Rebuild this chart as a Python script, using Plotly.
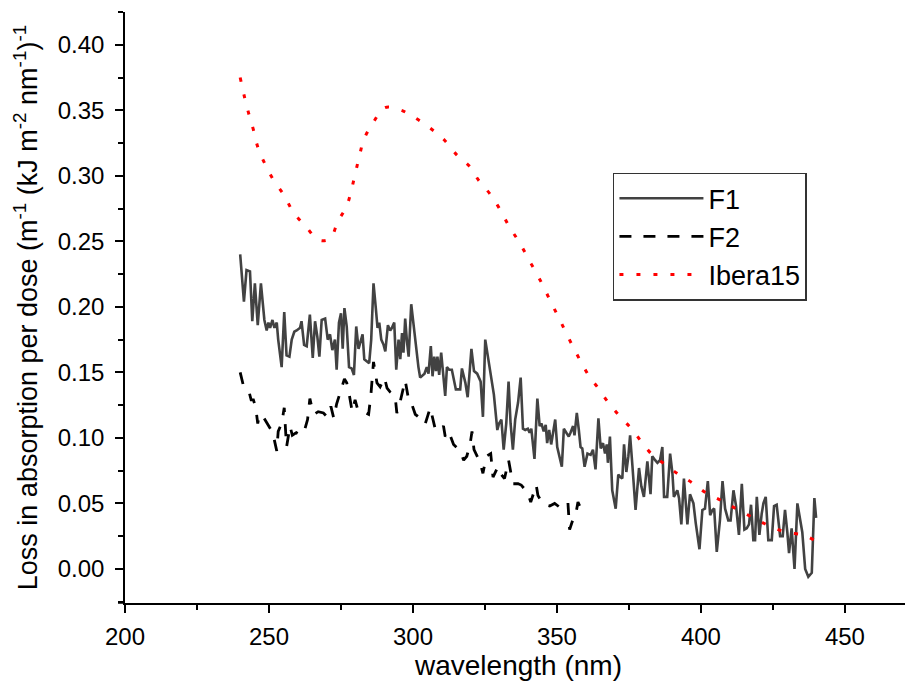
import plotly.graph_objects as go

# ---------------- data ----------------
f1_wl = [240.0, 241.3, 242.2, 243.4, 244.2, 245.1, 246.1, 247.2, 248.4, 249.2, 249.8, 250.4, 251.2, 251.9,
         252.7, 253.2, 254.4, 255.3, 256.1, 257.1, 257.9, 258.8, 259.6, 260.8, 261.3, 262.2, 263.1, 264.2,
         265.2, 266.0, 266.8, 267.5, 268.3, 269.5, 270.4, 271.2, 272.0, 272.9, 273.5, 274.3, 275.0, 275.6,
         276.2, 277.0, 277.8, 278.7, 279.5, 280.3, 281.1, 281.9, 282.5, 283.1, 284.0, 284.8, 285.5, 286.3,
         287.1, 287.7, 288.3, 289.0, 289.8, 290.4, 291.3, 292.1, 292.7, 293.5, 294.2, 295.0, 295.6, 296.2,
         296.7, 297.3, 297.9, 298.5, 299.4, 300.2, 301.0, 301.9, 302.5, 303.3, 304.0, 304.8, 305.4, 306.2,
         306.8, 307.4, 308.0, 308.5, 309.1, 309.8, 310.6, 311.2, 311.8, 312.6, 313.5, 314.1, 314.9, 315.6,
         316.4, 317.0, 318.2, 319.0, 320.3, 321.2, 322.3, 323.5, 324.3, 325.1, 326.3, 327.2, 328.1, 329.3,
         329.9, 330.7, 331.5, 332.4, 333.2, 333.9, 334.7, 335.5, 336.5, 337.4, 338.2, 339.0, 339.9, 340.5,
         341.1, 342.2, 343.2, 344.0, 344.6, 345.4, 346.1, 346.6, 347.3, 348.0, 348.8, 349.4, 350.1, 350.9,
         351.7, 352.4, 353.2, 354.1, 354.7, 355.6, 356.1, 356.9, 357.6, 358.2, 358.8, 359.6, 360.6, 361.7,
         362.5, 363.4, 364.4, 365.2, 366.0, 366.7, 367.3, 367.7, 368.4, 369.2, 370.4, 371.3, 372.1, 372.7,
         373.3, 374.1, 374.8, 375.4, 376.2, 377.3, 378.5, 379.3, 380.2, 381.4, 382.5, 383.1, 384.1, 384.9,
         385.8, 386.6, 387.2, 388.3, 389.3, 390.1, 390.6, 391.8, 392.4, 393.2, 394.1, 395.3, 396.2, 397.4,
         398.2, 399.5, 400.5, 401.4, 402.4, 403.2, 404.0, 404.6, 405.5, 406.6, 407.5, 408.4, 409.5, 410.3,
         411.3, 412.2, 413.2, 414.2, 415.1, 415.9, 416.7, 417.4, 418.2, 418.8, 419.4, 420.3, 421.1, 421.7,
         422.5, 423.4, 424.6, 425.4, 426.3, 427.5, 428.4, 429.2, 430.0, 430.6, 431.5, 432.5, 433.5, 434.4,
         435.2, 436.2, 437.3, 438.5, 439.4, 440.0]
f1_val = [0.240, 0.204, 0.228, 0.227, 0.189, 0.218, 0.186, 0.218, 0.190, 0.182, 0.188, 0.184, 0.190, 0.184,
          0.188, 0.175, 0.154, 0.196, 0.163, 0.162, 0.175, 0.181, 0.182, 0.184, 0.189, 0.171, 0.170, 0.194,
          0.161, 0.189, 0.177, 0.162, 0.190, 0.191, 0.175, 0.179, 0.167, 0.175, 0.152, 0.188, 0.195, 0.168,
          0.199, 0.185, 0.154, 0.153, 0.148, 0.185, 0.168, 0.175, 0.179, 0.160, 0.158, 0.157, 0.175, 0.218,
          0.199, 0.184, 0.188, 0.175, 0.171, 0.166, 0.186, 0.182, 0.184, 0.188, 0.152, 0.175, 0.160, 0.180,
          0.165, 0.191, 0.174, 0.162, 0.202, 0.185, 0.172, 0.154, 0.146, 0.148, 0.149, 0.154, 0.149, 0.170,
          0.147, 0.162, 0.151, 0.162, 0.148, 0.165, 0.147, 0.132, 0.154, 0.152, 0.152, 0.146, 0.137, 0.137,
          0.137, 0.153, 0.142, 0.131, 0.168, 0.151, 0.149, 0.143, 0.116, 0.175, 0.158, 0.143, 0.133, 0.106,
          0.111, 0.114, 0.091, 0.111, 0.143, 0.111, 0.091, 0.114, 0.127, 0.146, 0.107, 0.106, 0.107, 0.104,
          0.107, 0.084, 0.130, 0.109, 0.111, 0.105, 0.110, 0.096, 0.106, 0.095, 0.106, 0.114, 0.093, 0.086,
          0.078, 0.107, 0.104, 0.101, 0.104, 0.109, 0.102, 0.119, 0.106, 0.093, 0.092, 0.078, 0.088, 0.087,
          0.091, 0.076, 0.115, 0.092, 0.096, 0.088, 0.095, 0.081, 0.101, 0.060, 0.046, 0.072, 0.070, 0.069,
          0.095, 0.074, 0.086, 0.102, 0.079, 0.045, 0.077, 0.063, 0.055, 0.082, 0.057, 0.086, 0.083, 0.081,
          0.083, 0.093, 0.055, 0.055, 0.088, 0.073, 0.055, 0.060, 0.054, 0.034, 0.069, 0.034, 0.057, 0.050,
          0.035, 0.015, 0.045, 0.046, 0.067, 0.041, 0.045, 0.046, 0.013, 0.037, 0.067, 0.046, 0.037, 0.037,
          0.060, 0.048, 0.026, 0.065, 0.030, 0.031, 0.034, 0.049, 0.022, 0.022, 0.055, 0.026, 0.042, 0.050,
          0.055, 0.022, 0.022, 0.048, 0.049, 0.025, 0.025, 0.045, 0.028, 0.012, 0.031, 0.000, 0.050, 0.039,
          0.028, 0.000, -0.006, -0.003, 0.054, 0.039]

f2_wl = [240.0, 241.1, 243.1, 243.8, 244.6, 245.4, 246.1, 246.5, 247.5, 248.6, 249.8, 250.4, 251.3, 252.1,
         252.7, 253.2, 254.4, 255.3, 256.1, 257.3, 258.1, 259.5, 261.0, 262.5, 263.4, 264.2, 264.8, 265.7,
         267.1, 268.9, 270.2, 271.5, 272.5, 273.5, 274.7, 275.2, 276.2, 277.0, 277.8, 278.9, 279.9, 280.9,
         282.9, 284.6, 285.4, 286.3, 287.5, 288.6, 290.1, 291.0, 292.1, 293.8, 294.4, 295.6, 296.7, 297.3,
         298.5, 299.4, 300.8, 301.9, 303.1, 304.3, 306.0, 307.7, 308.9, 310.6, 311.2, 312.4, 314.1, 315.3,
         316.4, 317.6, 318.7, 319.9, 320.5, 321.2, 322.0, 323.2, 324.3, 325.5, 327.0, 327.8, 329.5, 330.7,
         331.8, 333.2, 334.7, 336.5, 337.6, 339.9, 340.9, 342.8, 343.4, 344.8, 345.7, 347.5, 349.2, 351.0,
         352.7, 353.8, 354.4, 355.6, 356.4, 357.3, 358.5, 359.6]
f2_val = [0.150, 0.140, 0.135, 0.129, 0.129, 0.123, 0.111, 0.116, 0.118, 0.114, 0.110, 0.107, 0.104, 0.096,
          0.090, 0.105, 0.111, 0.123, 0.093, 0.109, 0.102, 0.104, 0.102, 0.107, 0.114, 0.130, 0.124, 0.118,
          0.120, 0.119, 0.116, 0.124, 0.115, 0.126, 0.134, 0.139, 0.145, 0.142, 0.134, 0.120, 0.129, 0.121,
          0.120, 0.118, 0.133, 0.158, 0.142, 0.139, 0.146, 0.138, 0.135, 0.132, 0.119, 0.128, 0.139, 0.144,
          0.129, 0.127, 0.118, 0.116, 0.111, 0.111, 0.123, 0.107, 0.105, 0.109, 0.101, 0.105, 0.095, 0.092,
          0.090, 0.083, 0.086, 0.096, 0.105, 0.091, 0.087, 0.082, 0.073, 0.086, 0.088, 0.070, 0.078, 0.072,
          0.069, 0.083, 0.065, 0.065, 0.064, 0.058, 0.051, 0.064, 0.056, 0.051, 0.049, 0.048, 0.050, 0.047,
          0.050, 0.051, 0.030, 0.038, 0.040, 0.051, 0.045, 0.043]

ibera_wl = [240.0, 241.4, 242.9, 244.6, 246.1, 248.4, 251.5, 255.3, 258.5, 262.9, 267.2, 271.2, 273.9, 277.0,
            278.7, 280.1, 281.5, 283.0, 286.3, 290.3, 295.9, 300.2, 305.6, 310.6, 315.2, 319.3, 323.0, 326.8,
            330.3, 333.5, 337.0, 341.0, 344.5, 347.6, 350.1, 353.0, 355.7, 358.6, 361.5, 364.0, 367.5, 372.0,
            376.3, 380.0, 383.6, 386.8, 391.7, 396.8, 401.8, 407.2, 412.2, 418.2, 423.7, 429.6, 435.3, 439.3]
ibera_val = [0.375, 0.361, 0.348, 0.335, 0.322, 0.310, 0.297, 0.285, 0.272, 0.261, 0.251, 0.252, 0.265, 0.277,
             0.290, 0.303, 0.316, 0.328, 0.341, 0.352, 0.350, 0.345, 0.337, 0.328, 0.316, 0.308, 0.296, 0.286,
             0.274, 0.261, 0.249, 0.233, 0.219, 0.205, 0.194, 0.181, 0.169, 0.157, 0.146, 0.139, 0.128, 0.116,
             0.106, 0.095, 0.086, 0.081, 0.073, 0.066, 0.058, 0.052, 0.046, 0.039, 0.033, 0.028, 0.026, 0.022]

x_tick_vals = [200, 250, 300, 350, 400, 450]
y_tick_vals = [0.00, 0.05, 0.10, 0.15, 0.20, 0.25, 0.30, 0.35, 0.40]

FONT = "Liberation Sans, Arial, sans-serif"

fig = go.Figure()
fig.add_trace(go.Scatter(x=f1_wl, y=f1_val, mode="lines", name="F1",
                         line=dict(color="#424242", width=2.6)))
fig.add_trace(go.Scatter(x=f2_wl, y=f2_val, mode="lines", name="F2",
                         line=dict(color="#000000", width=2.8, dash="12px,12px")))
fig.add_trace(go.Scatter(x=ibera_wl, y=ibera_val, mode="lines", name="Ibera15",
                         line=dict(color="#ff0000", width=3, dash="4px,13px", shape="spline")))

axis_common = dict(
    showgrid=False, zeroline=False, showline=True, linecolor="black", linewidth=1.5,
    ticks="outside", ticklen=8, tickwidth=1.5, tickcolor="black", automargin=False,
    tickfont=dict(family=FONT, size=24, color="black"),
)

fig.update_xaxes(
    **axis_common,
    range=[200, 473.3], tickvals=x_tick_vals, ticklabelstandoff=3,
    minor=dict(dtick=25, tick0=200, ticks="outside", ticklen=5, tickwidth=1.5, tickcolor="black"),
    title=dict(text="wavelength (nm)", font=dict(family=FONT, size=28, color="black"), standoff=6),
)
fig.update_yaxes(
    **axis_common,
    range=[-0.026, 0.425], tickvals=y_tick_vals, tickformat=".2f", ticklabelstandoff=6,
    minor=dict(dtick=0.025, tick0=0, ticks="outside", ticklen=5, tickwidth=1.5, tickcolor="black"),
    title=dict(text="Loss in absorption per dose (m<sup>-1</sup> (kJ m<sup>-2</sup> nm<sup>-1</sup>)<sup>-1</sup>",
               font=dict(family=FONT, size=27, color="black"), standoff=12),
)

# small overhang of axis lines at the origin corner
fig.add_shape(type="line", xref="paper", yref="paper", xsizemode="pixel", xanchor=0,
              x0=-7, x1=0, y0=0, y1=0, line=dict(color="black", width=1.5))
fig.add_shape(type="line", xref="paper", yref="paper", ysizemode="pixel", yanchor=0,
              x0=0, x1=0, y0=-10, y1=0, line=dict(color="black", width=1.5))

fig.update_layout(
    width=913, height=688,
    margin=dict(l=117, r=9, t=4, b=93),
    paper_bgcolor="white", plot_bgcolor="white",
    font=dict(family=FONT, color="black"),
    legend=dict(x=0.62, y=0.728, xanchor="left", yanchor="top",
                bgcolor="white", bordercolor="#333333", borderwidth=1.5,
                font=dict(family=FONT, size=27, color="black"),
                itemwidth=84, tracegroupgap=0),
)

fig.write_html("out.html")
